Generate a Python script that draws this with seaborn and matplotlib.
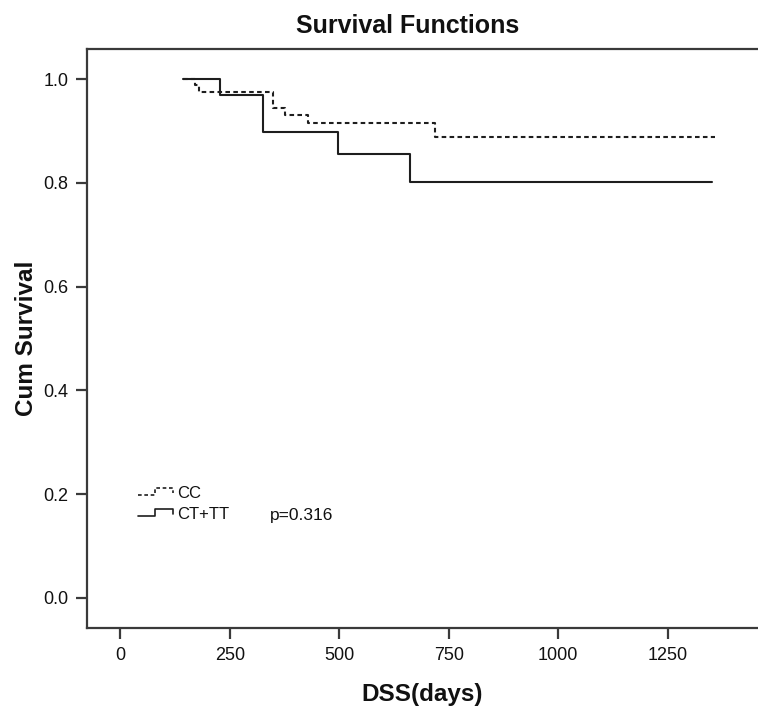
import pandas as pd
import matplotlib
matplotlib.use('Agg')
import matplotlib.pyplot as plt
from matplotlib.lines import Line2D
from matplotlib.legend_handler import HandlerBase
import seaborn as sns

# Kaplan-Meier step points
cc_days = [143, 170, 180, 348, 375, 428, 719, 1358]
cc_surv = [1.0, 0.988, 0.975, 0.945, 0.931, 0.915, 0.888, 0.888]
ct_days = [143, 228, 325, 497, 662, 1351]
ct_surv = [1.0, 0.969, 0.898, 0.855, 0.801, 0.801]
groups = ['CC', 'CT+TT']
x_ticks = [0, 250, 500, 750, 1000, 1250]
y_ticks = [0.0, 0.2, 0.4, 0.6, 0.8, 1.0]
p_text = 'p=0.316'

LINE_COL = '#1e1e1e'
SPINE_COL = '#3a3a3a'
DASH = (2.2, 1.6)


class StepHandler(HandlerBase):
    """Legend glyph drawn as a small survival step."""
    def create_artists(self, legend, orig_handle, xdescent, ydescent,
                       width, height, fontsize, trans):
        fx = [0.0, 0.5, 0.5, 1.0, 1.0]
        fy = [0.25, 0.25, 0.85, 0.85, 0.45]
        xs = [f * width - xdescent for f in fx]
        ys = [f * height - ydescent for f in fy]
        line = Line2D(xs, ys)
        line.update_from(orig_handle)
        line.set_transform(trans)
        return [line]


def main():
    df = pd.concat([
        pd.DataFrame({'days': cc_days, 'surv': cc_surv, 'group': groups[0]}),
        pd.DataFrame({'days': ct_days, 'surv': ct_surv, 'group': groups[1]}),
    ], ignore_index=True)

    sns.set_style('white')
    plt.rcParams['font.family'] = ['Liberation Sans', 'DejaVu Sans']
    plt.rcParams['text.color'] = '#111111'
    plt.rcParams['axes.labelcolor'] = '#111111'

    fig = plt.figure(figsize=(7.58, 7.09), dpi=100)
    ax = fig.add_axes([87 / 758, 1 - 628 / 709, 671 / 758, 579 / 709])

    sns.lineplot(data=df, x='days', y='surv', hue='group', style='group',
                 palette={groups[0]: LINE_COL, groups[1]: LINE_COL},
                 dashes={groups[0]: DASH, groups[1]: ''},
                 drawstyle='steps-post', linewidth=1.5, errorbar=None,
                 legend=False, ax=ax)

    ax.set_xlim(-76, 1456)
    ax.set_ylim(-0.058, 1.058)
    ax.set_xticks(x_ticks)
    ax.set_yticks(y_ticks)
    ax.set_yticklabels([f'{v:.1f}' for v in y_ticks])

    for side in ['left', 'bottom', 'top']:
        ax.spines[side].set_color(SPINE_COL)
        ax.spines[side].set_linewidth(1.6)
    ax.spines['right'].set_visible(False)
    ax.tick_params(axis='both', direction='out', length=8, width=1.6,
                   color=SPINE_COL, labelsize=13, pad=5.5, labelcolor='#111111')
    ax.tick_params(axis='both', left=True, bottom=True)

    ax.set_xlabel('DSS(days)', fontsize=17.5, fontweight='bold', labelpad=14)
    ax.set_ylabel('Cum Survival', fontsize=17.5, fontweight='bold', labelpad=4)
    fig.text(0.538, 1 - 33 / 709, 'Survival Functions', ha='center',
             va='baseline', fontsize=18, fontweight='bold')

    h_cc = Line2D([], [], color=LINE_COL, linewidth=1.2, linestyle=(0, DASH))
    h_ct = Line2D([], [], color=LINE_COL, linewidth=1.2, linestyle='-')
    ax.legend([h_cc, h_ct], groups, loc='upper left',
              bbox_to_anchor=(0.076, 0.245), frameon=False, fontsize=12,
              handlelength=2.1, handletextpad=0.25, labelspacing=0.35,
              borderpad=0, borderaxespad=0,
              handler_map={Line2D: StepHandler()})
    ax.text(0.273, 0.195, p_text, transform=ax.transAxes, ha='left',
            va='center', fontsize=12.5)

    fig.savefig('out.png', dpi=100)


if __name__ == '__main__':
    main()
